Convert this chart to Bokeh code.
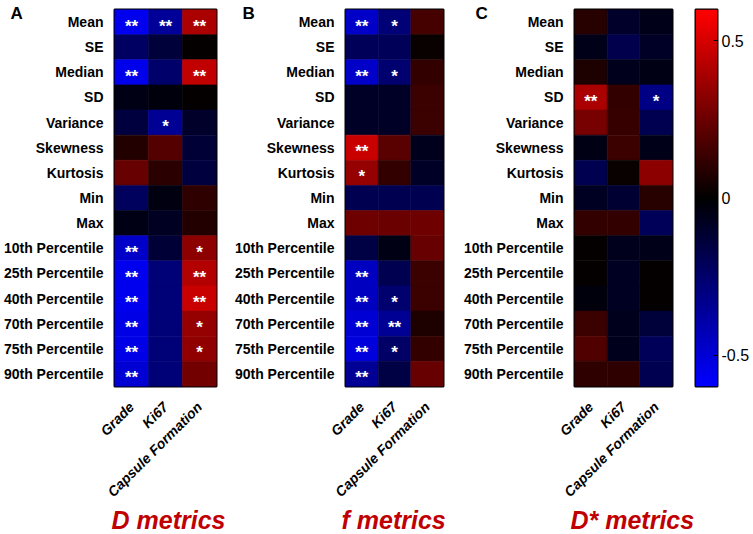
import math
import numpy as np
from bokeh.plotting import figure
from bokeh.layouts import row
from bokeh.models import (ColumnDataSource, FactorRange, LinearColorMapper,
                          FixedTicker, Range1d, Title)
from bokeh.transform import transform
from bokeh.core.properties import value
from bokeh.embed import file_html
from bokeh.resources import INLINE

# ---------------- data ----------------
rows = ["Mean", "SE", "Median", "SD", "Variance", "Skewness", "Kurtosis", "Min", "Max",
        "10th Percentile", "25th Percentile", "40th Percentile", "70th Percentile",
        "75th Percentile", "90th Percentile"]
row_labels = {r: r for r in rows}
for r in rows:
    if "th Percentile" in r:
        row_labels[r] = r.replace("th Percentile", "\u1d57\u02b0 Percentile")
cols = ["Grade", "Ki67", "Capsule Formation"]

# Panel A: D metrics
d_grade = [-0.56, -0.23, -0.55, -0.05, -0.15, 0.08, 0.24, -0.22, -0.05, -0.47, -0.56, -0.56, -0.54, -0.54, -0.50]
d_ki67 = [-0.36, -0.14, -0.25, -0.03, -0.35, 0.20, 0.10, -0.04, -0.08, -0.13, -0.28, -0.28, -0.28, -0.28, -0.28]
d_caps = [0.40, 0.01, 0.45, 0.01, -0.10, -0.13, -0.15, 0.11, 0.08, 0.33, 0.42, 0.47, 0.35, 0.34, 0.27]
d_grade_sig = ["**", "", "**", "", "", "", "", "", "", "**", "**", "**", "**", "**", "**"]
d_ki67_sig = ["**", "", "", "", "*", "", "", "", "", "", "", "", "", "", ""]
d_caps_sig = ["**", "", "**", "", "", "", "", "", "", "*", "**", "**", "*", "*", ""]

# Panel B: f metrics
f_grade = [-0.47, -0.21, -0.47, -0.09, -0.09, 0.47, 0.35, -0.19, 0.26, -0.16, -0.45, -0.45, -0.50, -0.52, -0.35]
f_ki67 = [-0.28, -0.21, -0.26, -0.09, -0.09, 0.21, 0.12, -0.19, 0.25, -0.05, -0.19, -0.26, -0.35, -0.24, -0.16]
f_caps = [0.16, 0.02, 0.12, 0.14, 0.14, -0.07, -0.09, -0.19, 0.26, 0.24, 0.14, 0.14, 0.07, 0.12, 0.24]
f_grade_sig = ["**", "", "**", "", "", "**", "*", "", "", "", "**", "**", "**", "**", "**"]
f_ki67_sig = ["*", "", "*", "", "", "", "", "", "", "", "", "*", "**", "*", ""]
f_caps_sig = [""] * 15

# Panel C: D* metrics
ds_grade = [0.09, -0.06, 0.07, 0.40, 0.28, -0.05, -0.19, -0.08, 0.12, 0.01, 0.01, -0.03, 0.14, 0.19, 0.11]
ds_ki67 = [-0.10, -0.18, -0.07, 0.12, 0.13, 0.14, 0.02, -0.12, 0.12, -0.07, -0.08, -0.08, -0.07, -0.07, 0.11]
ds_caps = [-0.06, -0.09, -0.05, -0.31, -0.19, -0.06, 0.33, 0.09, -0.21, -0.06, 0.01, 0.01, -0.14, -0.21, -0.19]
ds_grade_sig = ["", "", "", "**", "", "", "", "", "", "", "", "", "", "", ""]
ds_ki67_sig = [""] * 15
ds_caps_sig = ["", "", "", "*", "", "", "", "", "", "", "", "", "", "", ""]

cbar_ticks = [-0.5, 0, 0.5]
cbar_labels = {-0.5: "-0.5", 0: "0", 0.5: "0.5"}

# ---------------- styling ----------------
FONT = "Liberation Sans"
palette = []
for i in range(256):
    t = i / 255 * 2 - 1
    if t < 0:
        palette.append("#%02x%02x%02x" % (0, 0, int(round(-t * 255))))
    else:
        palette.append("#%02x%02x%02x" % (int(round(t * 255)), 0, 0))
mapper = LinearColorMapper(palette=palette, low=-0.6, high=0.6)

H = 534
TOP = 9
FRAME_H = 377
BOT = H - TOP - FRAME_H


def make_panel(vals, sigs, letter, title, width, bl, br, letter_dx, title_dx):
    xs, ys, vs, ss = [], [], [], []
    for c, v_list, s_list in zip(cols, vals, sigs):
        for r, v, s in zip(rows, v_list, s_list):
            xs.append(c); ys.append(r); vs.append(v); ss.append(s)
    src = ColumnDataSource(dict(x=xs, y=ys, v=vs, s=ss))
    p = figure(width=width, height=H, x_range=FactorRange(*cols),
               y_range=FactorRange(*reversed(rows)), output_backend="svg",
               toolbar_location=None, min_border_left=bl, min_border_right=br,
               min_border_top=TOP, min_border_bottom=BOT)
    p.rect(x="x", y="y", width=1, height=1, source=src,
           fill_color=transform("v", mapper), line_color=transform("v", mapper), line_width=0.6)
    p.text(x="x", y="y", text="s", source=src, text_color="white",
           text_font=value(FONT), text_font_style="bold", text_font_size="17px",
           text_align="center", text_baseline="middle", y_offset=4)
    p.outline_line_color = "black"
    p.outline_line_width = 2
    p.grid.grid_line_color = None
    for ax in (p.xaxis[0], p.yaxis[0]):
        ax.axis_line_color = None
        ax.major_tick_line_color = None
        ax.minor_tick_line_color = None
        ax.major_tick_out = 0
        ax.major_tick_in = 0
        ax.major_label_text_font = FONT
        ax.major_label_text_font_style = "bold"
        ax.major_label_text_font_size = "14px"
        ax.major_label_text_color = "black"
    p.yaxis.major_label_standoff = 11
    p.yaxis.major_label_overrides = row_labels
    p.xaxis.major_label_orientation = math.pi / 4
    p.xaxis.major_label_text_font_style = "bold italic"
    p.xaxis.major_label_standoff = 18
    # panel letter as the figure title, pulled left over the row labels
    p.title.text = letter
    p.title.align = "left"
    p.title.offset = letter_dx
    p.title.text_font = FONT
    p.title.text_font_style = "bold"
    p.title.text_font_size = "17px"
    p.title.text_color = "black"
    p.title.vertical_align = "bottom"
    p.title.standoff = -26
    # metric title below the x axis
    p.add_layout(Title(text=title, align="left", offset=title_dx, text_font=FONT,
                       text_font_style="bold italic", text_font_size="25px",
                       text_color="#c00000", standoff=-10), "below")
    return p


pA = make_panel([d_grade, d_ki67, d_caps], [d_grade_sig, d_ki67_sig, d_caps_sig],
                "A", "D metrics", 231, 114, 15, -104, -3)
pB = make_panel([f_grade, f_ki67, f_caps], [f_grade_sig, f_ki67_sig, f_caps_sig],
                "B", "f metrics", 229, 110, 17, -103, -4)
pC = make_panel([ds_grade, ds_ki67, ds_caps], [ds_grade_sig, ds_ki67_sig, ds_caps_sig],
                "C", "D* metrics", 234, 110, 22, -99, -4)

# colour bar
pD = figure(width=59, height=H, x_range=Range1d(0, 1), y_range=Range1d(-0.6, 0.6),
            output_backend="svg", toolbar_location=None, y_axis_location="right",
            min_border_left=1, min_border_right=36, min_border_top=7, min_border_bottom=147)
grad = np.linspace(-0.6, 0.6, 256).reshape(256, 1)
pD.image(image=[grad], x=0, y=-0.6, dw=1, dh=1.2, color_mapper=mapper)
pD.xaxis.visible = False
pD.grid.grid_line_color = None
pD.outline_line_color = "black"
pD.outline_line_width = 2
ya = pD.yaxis[0]
ya.ticker = FixedTicker(ticks=cbar_ticks)
ya.major_label_overrides = cbar_labels
ya.axis_line_color = None
ya.major_tick_in = 4
ya.major_tick_out = 0
ya.major_tick_line_color = "black"
ya.major_tick_line_width = 1
ya.minor_tick_line_color = None
ya.major_label_standoff = 4
ya.major_label_text_font = FONT
ya.major_label_text_font_size = "16px"
ya.major_label_text_font_style = "normal"
ya.major_label_text_color = "black"

layout = row(pA, pB, pC, pD)
open("out.html", "w").write(file_html(layout, INLINE))
